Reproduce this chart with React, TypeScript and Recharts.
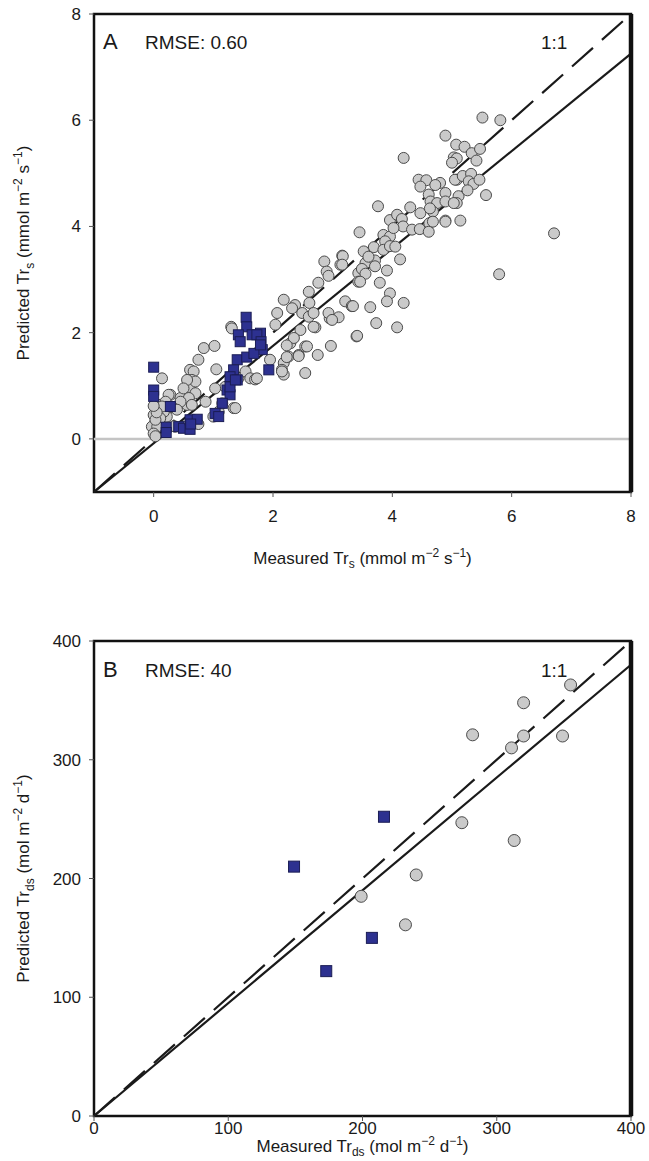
import { ScatterChart, Scatter, XAxis, YAxis, ReferenceLine, ReferenceArea } from "recharts"

const FONT = "'Liberation Sans', Arial, Helvetica, sans-serif"

// Panel A: sub-daily transpiration, measured vs predicted (mmol m-2 s-1)
const greyA: [number, number][] = [
  [0, 0.45], [0.03, 0.33], [0, 0.2], [0.08, 0.42], [0.2, 0.45], [0.28, 0.83], [0.45, 0.77],
  [0.42, 0.64], [0.14, 1.14], [0.36, 0.23], [0.5, 0.23], [0.75, 0.28], [0.22, 0.42], [0.36, 0.58],
  [0.17, 0.58], [0.11, 0.64], [0.56, 0.64], [0.61, 1.3], [0.67, 1.27], [0.64, 1.11], [0.61, 0.95],
  [0.7, 0.86], [0.87, 0.7], [0.84, 1.71], [1.02, 1.75], [0.75, 1.49], [1.05, 1.31], [1.2, 0.98],
  [1.34, 0.58], [1.09, 0.51], [0.7, 1.08], [0.56, 1.11], [0.5, 0.95], [0.59, 0.77], [0.45, 0.7],
  [0.25, 0.83], [0.2, 0.7], [0.31, 0.6], [0.17, 0.51], [0.11, 0.39], [-0.03, 0.23], [0.06, 0.23],
  [0.03, 0.36], [0.14, 0.61], [0.39, 0.55], [1.15, 0.67], [1.37, 0.58], [0.34, 0.24], [1.0, 0.42],
  [1.03, 0.95], [0, 0.1], [0.03, 0.05], [0.05, 0.5], [0, 0.62], [1.3, 2.11], [0.64, 0.64],
  [1.42, 1.14], [1.54, 1.27], [1.62, 1.14], [1.7, 1.12], [1.73, 1.14], [1.95, 1.49], [2.07, 2.37],
  [2.04, 2.15], [2.18, 2.62], [2.37, 2.52], [2.49, 2.37], [2.18, 1.43], [2.15, 1.3], [2.18, 1.21],
  [2.26, 1.55], [2.43, 1.58], [2.29, 1.8], [2.46, 2.05], [2.54, 1.74], [2.54, 1.24], [1.31, 2.08],
  [3.16, 3.45], [2.86, 3.34], [3.13, 3.28], [2.9, 3.15], [2.93, 3.07], [2.76, 2.94], [2.6, 2.77],
  [2.32, 2.46], [2.61, 2.56], [2.6, 2.3], [2.71, 2.1], [2.95, 2.27], [3.1, 2.29], [3.21, 2.59],
  [3.32, 2.5], [3.4, 1.93], [2.35, 1.9], [2.57, 1.74], [2.97, 1.75], [2.75, 1.58], [2.23, 1.54],
  [3.43, 3.12], [3.43, 2.96], [2.68, 2.37], [2.93, 2.37], [2.99, 2.24], [2.68, 2.11], [2.23, 1.76],
  [2.43, 1.56], [2.15, 1.27],
  [4.44, 4.88], [4.57, 4.87], [4.47, 4.75], [4.8, 4.82], [5.08, 4.88], [4.89, 4.63], [4.61, 4.6],
  [4.64, 4.47], [4.75, 4.44], [4.89, 4.47], [5.11, 4.57], [5.08, 4.44], [3.76, 4.38], [4.3, 4.36],
  [4.47, 4.25], [4.68, 4.28], [3.96, 4.12], [4.08, 4.22], [4.16, 4.14], [4.18, 4.0], [4.33, 3.94],
  [4.46, 3.95], [4.62, 4.06], [4.61, 3.9], [4.68, 4.09], [4.89, 4.11], [5.14, 4.11], [3.45, 3.89],
  [3.85, 3.84], [3.96, 3.81], [3.88, 3.72], [3.69, 3.61], [3.85, 3.56], [3.96, 3.63], [4.13, 3.38],
  [3.17, 3.44], [3.16, 3.28], [3.55, 3.31], [3.71, 3.36], [3.71, 3.25], [3.49, 3.2], [3.55, 3.11],
  [3.46, 2.96], [3.91, 3.17], [3.79, 2.94], [3.96, 2.74], [3.91, 2.59], [4.19, 2.56], [3.34, 2.5],
  [3.63, 2.48], [3.73, 2.18], [4.08, 2.1], [3.41, 1.94], [4.19, 5.29], [3.52, 3.53], [3.6, 3.43],
  [4.02, 3.97], [4.05, 3.62], [4.63, 4.34], [5.03, 4.44], [4.72, 4.78],
  [5.51, 6.05], [5.81, 6.0], [4.89, 5.71], [5.07, 5.54], [5.21, 5.5], [5.33, 5.38], [5.47, 5.46],
  [5.03, 5.3], [5.08, 5.28], [5.0, 5.2], [5.41, 5.24], [5.05, 4.88], [5.18, 4.95], [5.32, 4.99],
  [5.28, 4.85], [5.36, 4.8], [5.46, 4.88], [5.26, 4.68], [5.57, 4.59], [4.89, 4.09], [6.71, 3.87],
  [5.79, 3.1],
]
const blueA: [number, number][] = [
  [0, 1.35], [0, 0.92], [0, 0.8], [0.21, 0.22], [0.21, 0.12], [0.28, 0.61], [0.42, 0.23],
  [0.5, 0.2], [0.61, 0.36], [0.61, 0.18], [0.73, 0.37], [0.62, 0.28],
  [1.55, 2.29], [1.56, 2.11], [1.42, 1.96], [1.45, 1.83], [1.65, 1.96], [1.79, 1.99], [1.73, 1.96],
  [1.8, 1.83], [1.82, 1.68], [1.93, 1.3], [1.4, 1.49], [1.56, 1.54], [1.68, 1.61], [1.34, 1.3],
  [1.28, 1.17], [1.4, 1.11], [1.23, 0.92], [1.28, 0.83], [1.15, 0.67], [1.03, 0.48], [1.09, 0.42],
  [1.28, 0.98], [1.37, 1.11], [1.79, 1.77],
]
const ticksA = [0, 2, 4, 6, 8]
const domainA: [number, number] = [-1, 8]
const fitA = { slope: 0.917, intercept: -0.083 }
const rmseA = "0.60"

// Panel B: daily transpiration (mol m-2 d-1)
const greyB: [number, number][] = [
  [355, 363], [320, 348], [282, 321], [320, 320], [349, 320], [311, 310], [274, 247],
  [313, 232], [240, 203], [199, 185], [232, 161],
]
const blueB: [number, number][] = [[216, 252], [149, 210], [207, 150], [173, 122]]
const ticksB = [0, 100, 200, 300, 400]
const domainB: [number, number] = [0, 400]
const fitB = { slope: 0.95, intercept: 0 }
const rmseB = "40"

type Part = { t: string; sub?: boolean; sup?: boolean }

const titleParts = (lead: string, idx: string, unit: string, per: string): Part[] => [
  { t: lead + " Tr" }, { t: idx, sub: true }, { t: ` (${unit} m` }, { t: "−2", sup: true },
  { t: ` ${per}` }, { t: "−1", sup: true }, { t: ")" },
]
const xTitleA = titleParts("Measured", "s", "mmol", "s")
const yTitleA = titleParts("Predicted", "s", "mmol", "s")
const xTitleB = titleParts("Measured", "ds", "mol", "d")
const yTitleB = titleParts("Predicted", "ds", "mol", "d")

const toPoints = (rows: [number, number][]) => rows.map(([x, y]) => ({ x, y }))

function RichText({ x, y, parts, angle = 0 }: { x: number; y: number; parts: Part[]; angle?: number }) {
  let shift = 0
  const spans = parts.map((p, i) => {
    const target = p.sub ? 5 : p.sup ? -7 : 0
    const dy = target - shift
    shift = target
    return (
      <tspan key={i} dy={dy} fontSize={p.sub || p.sup ? 12 : 17}>
        {p.t}
      </tspan>
    )
  })
  return (
    <text
      x={x}
      y={y}
      textAnchor="middle"
      transform={angle ? `rotate(${angle} ${x} ${y})` : undefined}
      fontFamily={FONT}
      fontSize={17}
      fill="#1a1a1a"
    >
      {spans}
    </text>
  )
}

function YTitle(props: any) {
  const { viewBox, parts } = props
  if (!viewBox) return null
  return <RichText x={viewBox.x + 29} y={viewBox.y + viewBox.height / 2} parts={parts} angle={-90} />
}

// x-axis title drawn as plain HTML under the plot
function HtmlTitle({ parts, top }: { parts: Part[]; top: number }) {
  return (
    <div
      style={{
        position: "absolute",
        left: 94,
        top,
        width: 537,
        textAlign: "center",
        fontFamily: FONT,
        fontSize: 17,
        lineHeight: "20px",
        color: "#1a1a1a",
        whiteSpace: "nowrap",
      }}
    >
      {parts.map((p, i) =>
        p.sub ? (
          <sub key={i} style={{ fontSize: 12, verticalAlign: "-4px" }}>{p.t}</sub>
        ) : p.sup ? (
          <sup key={i} style={{ fontSize: 12, verticalAlign: "7px" }}>{p.t}</sup>
        ) : (
          <span key={i}>{p.t}</span>
        )
      )}
    </div>
  )
}

function makeDot(r: number) {
  return (props: any) => {
    const { cx, cy } = props
    if (cx == null || cy == null) return <g />
    return <circle cx={cx} cy={cy} r={r} fill="#cacaca" stroke="#4a4a4a" strokeWidth={1} />
  }
}

function makeSquare(s: number) {
  return (props: any) => {
    const { cx, cy } = props
    if (cx == null || cy == null) return <g />
    return (
      <rect x={cx - s / 2} y={cy - s / 2} width={s} height={s} fill="#2d3190" stroke="#1b1d55" strokeWidth={1} />
    )
  }
}

const tickStyle = { fontSize: 17, fill: "#1a1a1a", fontFamily: FONT }

interface PanelProps {
  height: number
  margin: { top: number; right: number; bottom: number; left: number }
  xHeight: number
  xTickMargin: number
  grey: [number, number][]
  blue: [number, number][]
  ticks: number[]
  domain: [number, number]
  fit: { slope: number; intercept: number }
  yTitle: Part[]
  zeroLine?: boolean
  r: number
  s: number
}

function Panel(p: PanelProps) {
  const [lo, hi] = p.domain
  return (
    <ScatterChart width={649} height={p.height} margin={p.margin}>
      <XAxis
        type="number"
        dataKey="x"
        domain={p.domain}
        ticks={p.ticks}
        allowDataOverflow
        axisLine={false}
        tickLine={{ stroke: "#555" }}
        tickSize={5}
        tickMargin={p.xTickMargin}
        tick={tickStyle}
        height={p.xHeight}
      />
      <YAxis
        type="number"
        dataKey="y"
        domain={p.domain}
        ticks={p.ticks}
        allowDataOverflow
        axisLine={false}
        tickLine={{ stroke: "#555" }}
        tickSize={5}
        tickMargin={8}
        tick={tickStyle}
        width={94}
        label={<YTitle parts={p.yTitle} />}
      />
      {p.zeroLine && <ReferenceLine y={0} stroke="#c4c4c4" strokeWidth={2.5} />}
      <Scatter data={toPoints(p.grey)} shape={makeDot(p.r)} isAnimationActive={false} />
      <Scatter data={toPoints(p.blue)} shape={makeSquare(p.s)} isAnimationActive={false} />
      <ReferenceLine
        segment={[{ x: lo, y: lo }, { x: hi, y: hi }]}
        stroke="#1a1a1a"
        strokeWidth={2.2}
        strokeDasharray="28 12"
      />
      <ReferenceLine
        segment={[
          { x: lo, y: p.fit.slope * lo + p.fit.intercept },
          { x: hi, y: p.fit.slope * hi + p.fit.intercept },
        ]}
        stroke="#1a1a1a"
        strokeWidth={2.2}
      />
      <ReferenceArea
        x1={lo}
        x2={hi}
        y1={lo}
        y2={hi}
        fill="none"
        stroke="#111"
        strokeWidth={2.5}
        ifOverflow="visible"
      />
      <ReferenceLine x={hi} stroke="#111" strokeWidth={4.5} ifOverflow="visible" />
    </ScatterChart>
  )
}

const note = (left: number, top: number, size: number, text: string) => (
  <div
    style={{
      position: "absolute",
      left,
      top,
      fontSize: size,
      fontFamily: FONT,
      color: "#1a1a1a",
      lineHeight: 1,
      whiteSpace: "nowrap",
    }}
  >
    {text}
  </div>
)

export default function App() {
  return (
    <div style={{ position: "absolute", left: 0, top: 0, width: 649, height: 1161, background: "#fff" }}>
      <Panel
        height={580}
        margin={{ top: 14, right: 18, bottom: 8, left: 0 }}
        xHeight={80}
        xTickMargin={13}
        grey={greyA}
        blue={blueA}
        ticks={ticksA}
        domain={domainA}
        fit={fitA}
        yTitle={yTitleA}
        zeroLine
        r={5.5}
        s={10}
      />
      <div style={{ position: "absolute", left: 0, top: 575 }}>
        <Panel
          height={586}
          margin={{ top: 66, right: 18, bottom: 0, left: 0 }}
          xHeight={45}
          xTickMargin={1}
          grey={greyB}
          blue={blueB}
          ticks={ticksB}
          domain={domainB}
          fit={fitB}
          yTitle={yTitleB}
          r={6}
          s={11}
        />
      </div>
      <HtmlTitle parts={xTitleA} top={543} />
      <HtmlTitle parts={xTitleB} top={1131} />
      {note(103, 31, 22, "A")}
      {note(145, 33, 19, `RMSE: ${rmseA}`)}
      {note(541, 33, 19, "1:1")}
      {note(103, 659, 22, "B")}
      {note(145, 661, 19, `RMSE: ${rmseB}`)}
      {note(541, 661, 19, "1:1")}
    </div>
  )
}
